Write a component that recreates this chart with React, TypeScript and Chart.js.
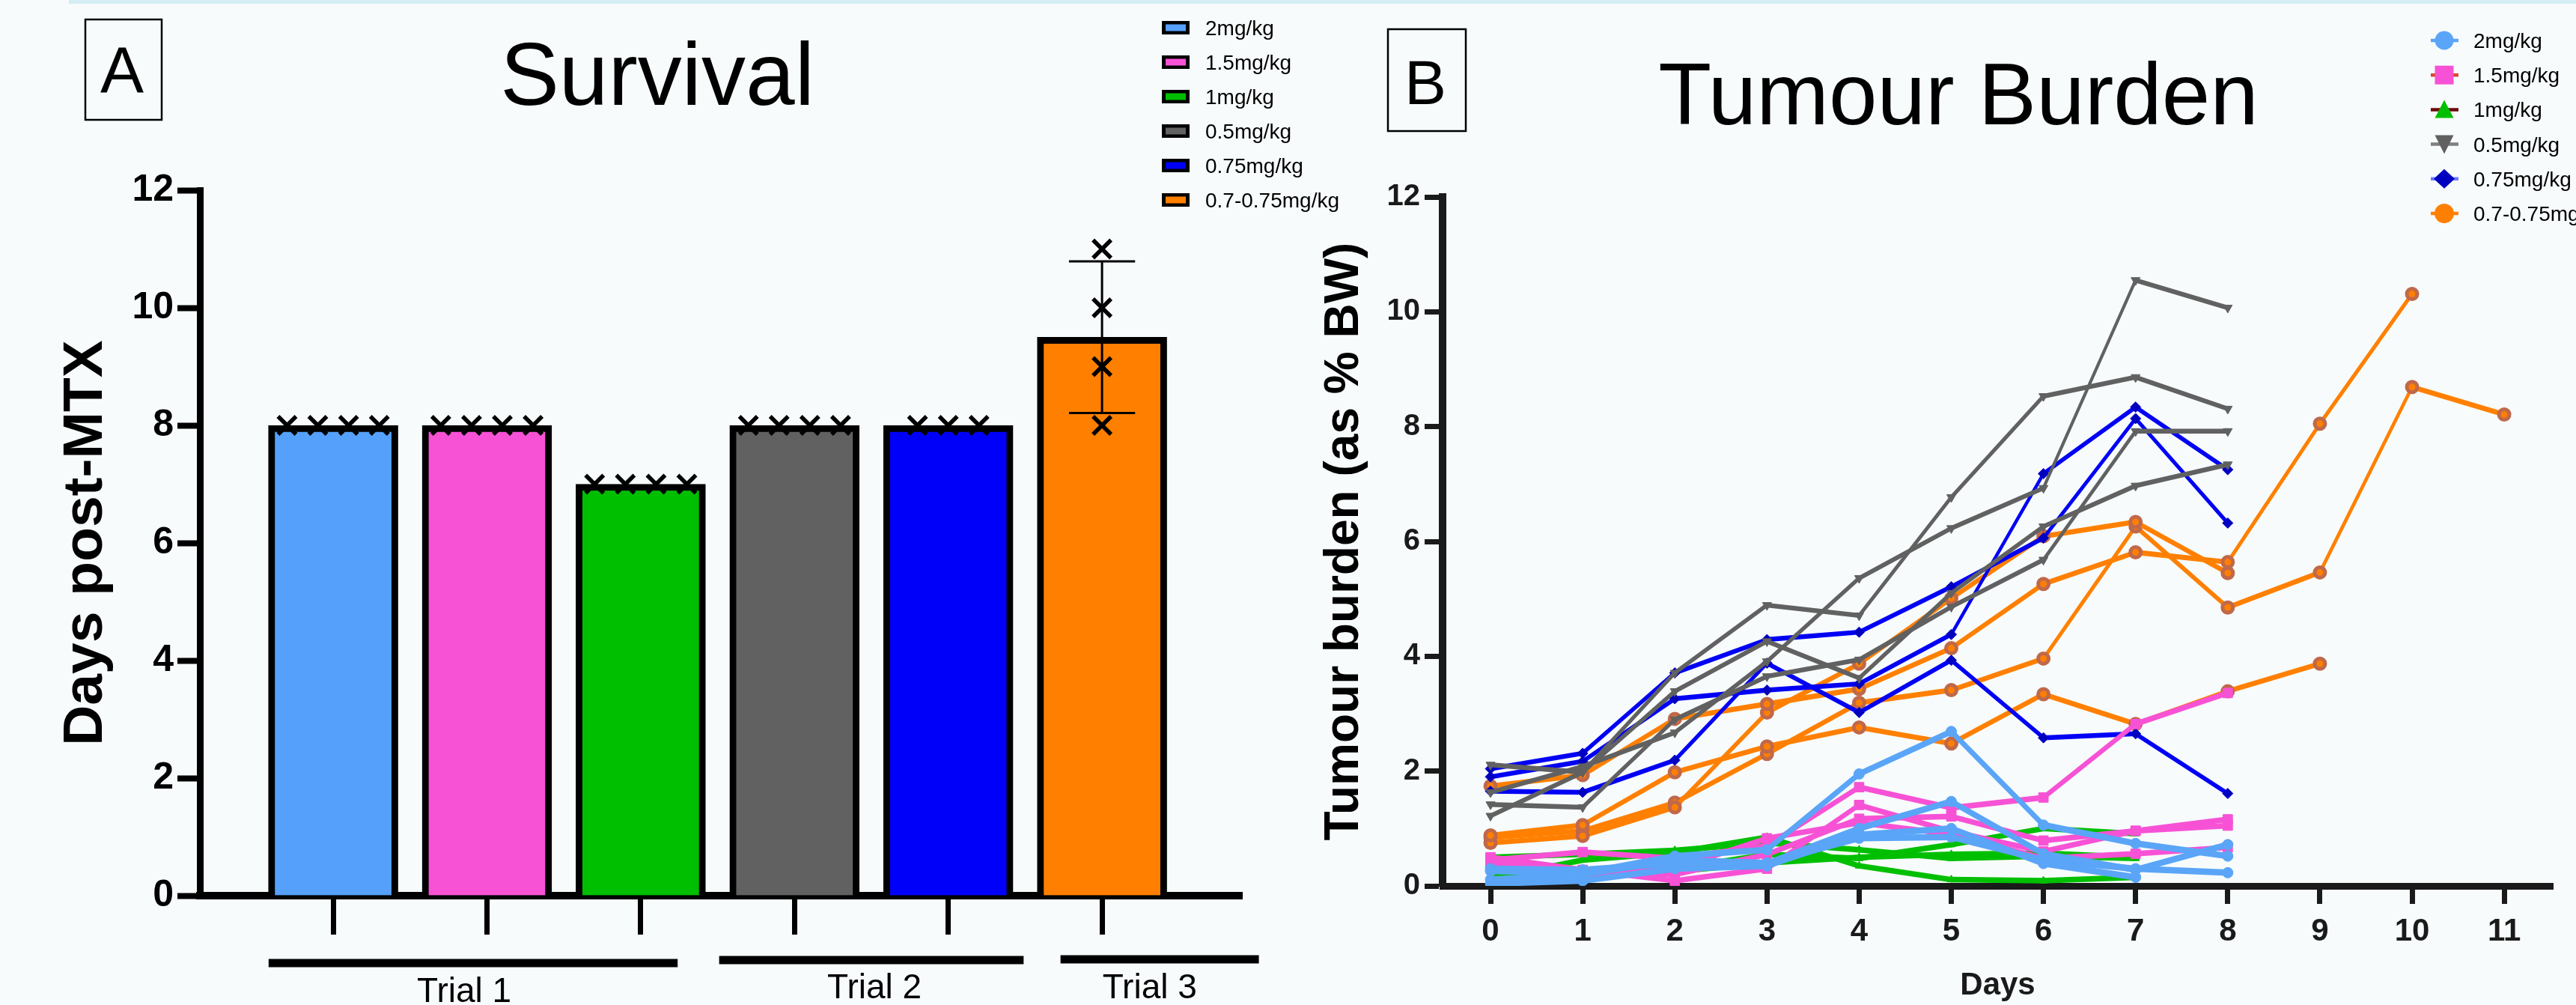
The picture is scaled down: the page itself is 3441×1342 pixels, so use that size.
import React, { useEffect, useRef } from "react";
import { Chart, registerables } from "chart.js";

Chart.register(...registerables);

const FONT = '"Liberation Sans", Arial, Helvetica, sans-serif';

// ---------------- Panel A : Survival ----------------
const GROUPS = ["2mg/kg", "1.5mg/kg", "1mg/kg", "0.5mg/kg", "0.75mg/kg", "0.7-0.75mg/kg"];
const BAR_COLORS = ["#55a0fa", "#f752d6", "#00bf00", "#616161", "#0000fa", "#ff8000"];
const SURVIVAL_MEAN = [8, 8, 7, 8, 8, 9.5];
const SURVIVAL_POINTS = [
  [8, 8, 8, 8],
  [8, 8, 8, 8],
  [7, 7, 7, 7],
  [8, 8, 8, 8],
  [8, 8, 8],
  [11, 10, 9, 8],
];
const TRIALS = ["Trial 1", "Trial 2", "Trial 3"];

// ---------------- Panel B : Tumour burden ----------------
const DAYS = [0, 1, 2, 3, 4, 5, 6, 7, 8, 9, 10, 11];
const DOSE_2 = [
  [0.26, 0.22, 0.52, 0.63, 1.95, 2.69, 1.06, 0.74, 0.52],
  [0.3, 0.28, 0.39, 0.39, 1.0, 1.47, 0.56, 0.28, 0.72],
  [0.04, 0.09, 0.3, 0.35, 0.89, 1.0, 0.39, 0.15],
  [0.11, 0.2, 0.45, 0.4, 0.83, 0.85, 0.45, 0.3, 0.23],
];
const DOSE_1_5 = [
  [0.45, 0.59, 0.48, 0.7, 1.72, 1.36, 1.54, 2.82, 3.36],
  [0.5, 0.28, 0.09, 0.3, 1.41, 0.95, 0.6, 0.96, 1.16],
  [0.41, 0.22, 0.2, 0.55, 1.17, 1.21, 0.79, 0.96, 1.05],
  [0.35, 0.18, 0.3, 0.83, 1.1, 0.9, 0.48, 0.56, 0.67],
];
const DOSE_1 = [
  [0.13, 0.45, 0.58, 0.85, 0.35, 0.11, 0.09, 0.15],
  [0.17, 0.25, 0.3, 0.55, 0.48, 0.72, 1.0, 0.91],
  [0.5, 0.55, 0.62, 0.75, 0.63, 0.48, 0.52, 0.48],
  [0.1, 0.2, 0.25, 0.4, 0.5, 0.55, 0.57, 0.5],
];
const DOSE_0_5 = [
  [2.11, 1.98, 3.71, 4.89, 4.71, 6.77, 8.53, 8.86, 8.31],
  [1.63, 2.08, 2.67, 3.91, 5.36, 6.23, 6.93, 10.55, 10.07],
  [1.42, 1.37, 2.9, 3.65, 3.94, 4.86, 5.68, 7.92, 7.92],
  [1.22, 1.98, 3.39, 4.26, 3.62, 5.1, 6.26, 6.97, 7.34],
];
const DOSE_0_75 = [
  [2.04, 2.31, 3.71, 4.29, 4.42, 5.21, 6.06, 8.14, 6.32],
  [1.9, 2.17, 3.26, 3.41, 3.52, 4.38, 7.18, 8.34, 7.25],
  [1.65, 1.63, 2.19, 3.88, 3.02, 3.93, 2.58, 2.65, 1.61],
];
const DOSE_0_7 = [
  [1.74, 1.93, 2.91, 3.17, 3.43, 4.14, 5.26, 5.81, 5.64, 8.05, 10.31],
  [0.88, 1.06, 1.98, 2.43, 2.76, 2.48, 3.34, 2.82, 3.39, 3.87],
  [0.75, 0.87, 1.37, 3.02, 3.87, 5.01, 6.09, 6.34, 5.45],
  [0.84, 0.96, 1.45, 2.3, 3.19, 3.41, 3.96, 6.26, 4.85, 5.46, 8.69, 8.21],
];
const SERIES_B = [DOSE_2, DOSE_1_5, DOSE_1, DOSE_0_5, DOSE_0_75, DOSE_0_7];

// styles for panel B groups (same order as GROUPS)
const LINE_STYLES = [
  { color: "#5aa5f7", marker: "#5aa5f7", border: "#5aa5f7", bw: 1, point: "circle", r: 7, rot: 0, w: 8.5 },
  { color: "#f752d5", marker: "#f752d5", border: "#f752d5", bw: 1, point: "rect", r: 9, rot: 0, w: 7.5 },
  { color: "#00bf00", marker: "#00bf00", border: "#00bf00", bw: 1, point: "triangle", r: 6, rot: 0, w: 7.5 },
  { color: "#616161", marker: "#616161", border: "#616161", bw: 1, point: "triangle", r: 7, rot: 180, w: 6.5 },
  { color: "#0000f5", marker: "#0000c0", border: "#0000c0", bw: 1, point: "rectRot", r: 7, rot: 0, w: 6.5 },
  { color: "#ff8000", marker: "#ff8000", border: "#c0684a", bw: 5, point: "circle", r: 7, rot: 0, w: 7 },
];
const LEGEND_B_LINES = ["#5aa5f7", "#d9482b", "#6b0a0a", "#808080", "#6b7bff", "#ff8000"];
const LEGEND_B_MARKERS = ["#5aa5f7", "#f752d5", "#00bf00", "#606060", "#0000c0", "#ff8000"];

function segWidth(w: number) {
  return (ctx: any) => {
    const dx = ctx.p1.x - ctx.p0.x;
    const dy = ctx.p1.y - ctx.p0.y;
    const L = Math.hypot(dx, dy) || 1;
    const c = dx / L;
    const s = dy / L;
    return w * Math.sqrt(c * c + 0.3 * s * s);
  };
}

function spreadPoints() {
  const pts: { x: number; y: number }[] = [];
  SURVIVAL_POINTS.forEach((vals, i) => {
    const allSame = vals.every((v) => v === vals[0]);
    vals.forEach((v, k) => {
      const off = allSame ? (k - (vals.length - 1) / 2) * 0.2 : 0;
      pts.push({ x: i + off, y: v });
    });
  });
  return pts;
}

function sd(vals: number[]) {
  const m = vals.reduce((a, b) => a + b, 0) / vals.length;
  const v = vals.reduce((a, b) => a + (b - m) * (b - m), 0) / (vals.length - 1);
  return Math.sqrt(v);
}

const panelAPlugin = {
  id: "panelADecor",
  afterDraw(chart: any) {
    const ctx = chart.ctx as CanvasRenderingContext2D;
    const xs = chart.scales.x;
    ctx.save();
    // A box
    ctx.strokeStyle = "#000";
    ctx.lineWidth = 2.5;
    ctx.strokeRect(114, 26, 102, 134);
    ctx.fillStyle = "#000";
    ctx.textAlign = "center";
    ctx.textBaseline = "alphabetic";
    ctx.font = `87px ${FONT}`;
    ctx.fillText("A", 163, 124);
    // title
    ctx.font = `118px ${FONT}`;
    ctx.fillText("Survival", 878, 140);
    // legend
    ctx.textAlign = "left";
    ctx.font = `28px ${FONT}`;
    GROUPS.forEach((g, i) => {
      const cy = 37 + 46 * i;
      ctx.fillStyle = "#000";
      ctx.fillRect(1552, cy - 9, 37, 18);
      ctx.fillStyle = BAR_COLORS[i];
      ctx.fillRect(1557, cy - 4.5, 27, 9);
      ctx.fillStyle = "#000";
      ctx.fillText(g, 1610, cy + 10);
    });
    // trial bars and labels
    const spans = [
      [-0.42, 2.24, 1286],
      [2.51, 4.49, 1282],
      [4.73, 6.02, 1281],
    ];
    const labelPos = [
      [0.852, 1338],
      [3.52, 1333],
      [5.31, 1333],
    ];
    ctx.fillStyle = "#000";
    spans.forEach(([a, b, y]) => {
      const x0 = xs.getPixelForValue(a);
      const x1 = xs.getPixelForValue(b);
      ctx.fillRect(x0, y - 5.5, x1 - x0, 11);
    });
    ctx.textAlign = "center";
    ctx.font = `46px ${FONT}`;
    TRIALS.forEach((t, i) => {
      ctx.fillText(t, xs.getPixelForValue(labelPos[i][0]), labelPos[i][1]);
    });
    ctx.restore();
  },
};

const panelBPlugin = {
  id: "panelBDecor",
  afterDraw(chart: any) {
    const ctx = chart.ctx as CanvasRenderingContext2D;
    ctx.save();
    ctx.strokeStyle = "#000";
    ctx.lineWidth = 2.5;
    ctx.strokeRect(154, 39, 104, 136);
    ctx.fillStyle = "#000";
    ctx.textAlign = "center";
    ctx.textBaseline = "alphabetic";
    ctx.font = `84px ${FONT}`;
    ctx.fillText("B", 204, 139);
    ctx.font = `116px ${FONT}`;
    ctx.fillText("Tumour Burden", 916, 166);
    // legend
    ctx.textAlign = "left";
    ctx.font = `28px ${FONT}`;
    GROUPS.forEach((g, i) => {
      const cy = 54 + 46.2 * i;
      const cx = 1565;
      ctx.strokeStyle = LEGEND_B_LINES[i];
      ctx.lineWidth = 4.5;
      ctx.beginPath();
      ctx.moveTo(1547, cy);
      ctx.lineTo(1584, cy);
      ctx.stroke();
      ctx.fillStyle = LEGEND_B_MARKERS[i];
      ctx.beginPath();
      if (i === 0) ctx.arc(cx, cy, 12.5, 0, Math.PI * 2);
      else if (i === 1) ctx.rect(cx - 12.5, cy - 12.5, 25, 25);
      else if (i === 2) {
        ctx.moveTo(cx, cy - 13);
        ctx.lineTo(cx + 12.5, cy + 11);
        ctx.lineTo(cx - 12.5, cy + 11);
        ctx.closePath();
      } else if (i === 3) {
        ctx.moveTo(cx - 12.5, cy - 12);
        ctx.lineTo(cx + 12.5, cy - 12);
        ctx.lineTo(cx, cy + 13);
        ctx.closePath();
      } else if (i === 4) {
        ctx.moveTo(cx, cy - 13);
        ctx.lineTo(cx + 14, cy);
        ctx.lineTo(cx, cy + 13);
        ctx.lineTo(cx - 14, cy);
        ctx.closePath();
      } else ctx.arc(cx, cy, 13, 0, Math.PI * 2);
      ctx.fill();
      ctx.fillStyle = "#000";
      ctx.fillText(g, 1604, cy + 10);
    });
    ctx.restore();
  },
};

function buildA(): any {
  const last = SURVIVAL_POINTS.length - 1;
  const m = SURVIVAL_MEAN[last];
  const s = sd(SURVIVAL_POINTS[last]);
  const capHalf = 0.215;
  const errLine = (data: any[]) => ({
    type: "line",
    data,
    borderColor: "#000",
    borderWidth: 3,
    pointRadius: 0,
    fill: false,
    order: 2,
  });
  return {
    type: "bar",
    data: {
      datasets: [
        {
          type: "bar",
          data: SURVIVAL_MEAN.map((v, i) => ({ x: i, y: v })),
          backgroundColor: BAR_COLORS,
          borderColor: "#000",
          borderWidth: 9,
          borderSkipped: "start",
          barThickness: 173,
          order: 3,
        },
        errLine([
          { x: last, y: m - s },
          { x: last, y: m + s },
        ]),
        errLine([
          { x: last - capHalf, y: m + s },
          { x: last + capHalf, y: m + s },
        ]),
        errLine([
          { x: last - capHalf, y: m - s },
          { x: last + capHalf, y: m - s },
        ]),
        {
          type: "scatter",
          data: spreadPoints(),
          pointStyle: "crossRot",
          pointRadius: 17,
          pointBorderWidth: 5.5,
          pointBorderColor: "#000",
          pointBackgroundColor: "#000",
          borderColor: "#000",
          showLine: false,
          order: 1,
        },
      ],
    },
    options: {
      responsive: false,
      animation: false,
      events: [],
      layout: { padding: { left: 0, top: 254, right: 141, bottom: 0 } },
      plugins: { legend: { display: false }, tooltip: { enabled: false }, title: { display: false } },
      scales: {
        x: {
          type: "linear",
          offset: false,
          min: -0.867,
          max: 5.91,
          afterBuildTicks: (sc: any) => {
            sc.ticks = GROUPS.map((_, i) => ({ value: i }));
          },
          afterFit: (sc: any) => {
            sc.height = 146;
          },
          ticks: { display: false },
          grid: { display: true, offset: false, drawOnChartArea: false, drawTicks: true, tickLength: 52, tickWidth: 7, tickColor: "#000" },
          border: { display: true, width: 10, color: "#000" },
        },
        y: {
          type: "linear",
          min: 0,
          max: 12,
          ticks: { stepSize: 2, color: "#000", padding: 5, font: { family: FONT, size: 50, weight: "bold" } },
          afterFit: (sc: any) => {
            sc.width = 267;
          },
          grid: { display: true, drawOnChartArea: false, drawTicks: true, tickLength: 30, tickWidth: 8, tickColor: "#000" },
          border: { display: true, width: 9, color: "#000" },
          title: {
            display: true,
            text: "Days post-MTX",
            color: "#000",
            font: { family: FONT, size: 75, weight: "bold" },
            padding: { top: 70, bottom: 0 },
          },
        },
      },
    },
    plugins: [panelAPlugin],
  };
}

function buildB(): any {
  const datasets: any[] = [];
  SERIES_B.forEach((group, gi) => {
    const st = LINE_STYLES[gi];
    group.forEach((mouse) => {
      datasets.push({
        type: "line",
        data: mouse.map((v, i) => ({ x: DAYS[i], y: v })),
        borderColor: st.color,
        borderWidth: st.w,
        segment: { borderWidth: segWidth(st.w) },
        borderCapStyle: "round",
        borderJoinStyle: "round",
        tension: 0,
        fill: false,
        pointStyle: st.point,
        pointRadius: st.r,
        pointRotation: st.rot,
        pointBackgroundColor: st.marker,
        pointBorderColor: st.border,
        pointBorderWidth: st.bw,
      });
    });
  });
  const dark = "#1a1a1a";
  return {
    type: "line",
    data: { datasets },
    options: {
      responsive: false,
      animation: false,
      events: [],
      layout: { padding: { left: 0, top: 263, right: 31, bottom: 0 } },
      plugins: { legend: { display: false }, tooltip: { enabled: false }, title: { display: false } },
      scales: {
        x: {
          type: "linear",
          min: -0.52,
          max: 11.527,
          afterBuildTicks: (sc: any) => {
            sc.ticks = DAYS.map((v) => ({ value: v }));
          },
          afterFit: (sc: any) => {
            sc.height = 159;
          },
          ticks: {
            color: dark,
            padding: 12,
            maxRotation: 0,
            autoSkip: false,
            font: { family: FONT, size: 42, weight: "bold" },
            callback: (v: any) => String(v),
          },
          grid: { display: true, drawOnChartArea: false, drawTicks: true, tickLength: 24, tickWidth: 7, tickColor: dark },
          border: { display: true, width: 9, color: dark },
          title: {
            display: true,
            text: "Days",
            color: dark,
            font: { family: FONT, size: 42, weight: "bold" },
            padding: { top: 0, bottom: 0 },
          },
        },
        y: {
          type: "linear",
          min: 0,
          max: 12,
          ticks: { stepSize: 2, color: dark, padding: 6, font: { family: FONT, size: 40, weight: "bold" } },
          afterFit: (sc: any) => {
            sc.width = 227;
          },
          grid: { display: true, drawOnChartArea: false, drawTicks: true, tickLength: 24, tickWidth: 7, tickColor: dark },
          border: { display: true, width: 10, color: dark },
          title: {
            display: true,
            text: "Tumour burden (as % BW)",
            color: "#000",
            font: { family: FONT, size: 64, weight: "bold" },
            padding: { top: 58, bottom: 0 },
          },
        },
      },
    },
    plugins: [panelBPlugin],
  };
}

export default function App() {
  const refA = useRef<HTMLCanvasElement>(null);
  const refB = useRef<HTMLCanvasElement>(null);
  useEffect(() => {
    const a = new Chart(refA.current as HTMLCanvasElement, buildA());
    const b = new Chart(refB.current as HTMLCanvasElement, buildB());
    return () => {
      a.destroy();
      b.destroy();
    };
  }, []);
  return (
    <div
      style={{
        position: "fixed",
        left: 0,
        top: 0,
        width: 3441,
        height: 1342,
        background: "#f7fbfc",
        overflow: "hidden",
      }}
    >
      <div style={{ position: "absolute", left: 92, top: 0, right: 0, height: 5, background: "#d5edf4" }} />
      <canvas ref={refA} width={1800} height={1342} style={{ position: "absolute", left: 0, top: 0 }} />
      <canvas ref={refB} width={1741} height={1342} style={{ position: "absolute", left: 1700, top: 0 }} />
    </div>
  );
}
